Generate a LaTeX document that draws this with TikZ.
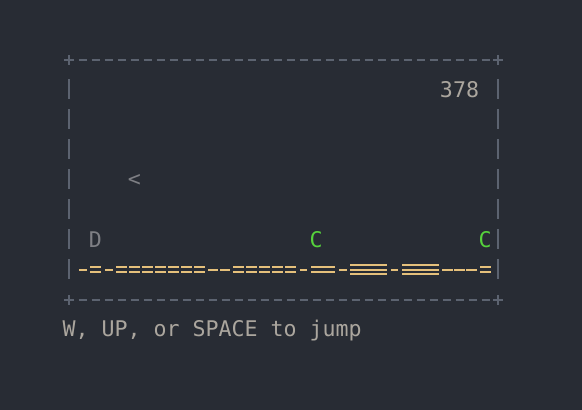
\documentclass[tikz,border=0pt]{standalone}
\usepackage{fontspec}
\setmonofont{DejaVu Sans Mono}
\definecolor{bg}{HTML}{282C34}
\definecolor{bordc}{HTML}{5C6370}
\definecolor{txtc}{HTML}{ABA69E}
\definecolor{dimc}{HTML}{7E7F84}
\definecolor{coinc}{HTML}{56D33C}
\definecolor{groundc}{HTML}{E5C07B}
\tikzset{
  bordr/.style={draw=bordc, line width=1.6pt},
  gline/.style={draw=groundc, line width=1.5pt},
  mono/.style={font=\ttfamily\fontsize{16.2}{16.2}\selectfont, inner sep=0pt, outer sep=0pt},
  score/.style={mono, text=txtc},
  dim/.style={mono, text=dimc},
  coin/.style={mono, text=coinc},
}
\newcommand\gsgl[2]{\draw[gline] (#1,270) -- (#2,270);}
\newcommand\gdbl[2]{\draw[gline] (#1,267) -- (#2,267) (#1,272) -- (#2,272);}
\newcommand\gtrp[2]{\draw[gline] (#1,265) -- (#2,265) (#1,269.7) -- (#2,269.7) (#1,274.3) -- (#2,274.3);}
\begin{document}
\begin{tikzpicture}[x=0.75pt,y=-0.75pt]
\useasboundingbox[fill=bg] (0,0) rectangle (582,410);
% border: top and bottom
\foreach \yy in {60,300}{
  \foreach \i in {1,...,32}{
    \draw[bordr] ({69+13*\i-3.5},\yy) -- ++(8,0);
  }
  \draw[bordr] (64,\yy) -- (74,\yy) (69,\yy-5) -- (69,\yy+5);
  \draw[bordr] (493,\yy) -- (503,\yy) (498,\yy-5) -- (498,\yy+5);
}
% border: sides
\foreach \r in {1,...,7}{
  \draw[bordr] (69,{60+30*\r-11}) -- ++(0,20);
  \draw[bordr] (498,{60+30*\r-11}) -- ++(0,20);
}
% texts
\node[score] (score) at (459.5,89.5) {378};
\node[dim] (player) at (134.5,180) {<};
\node[dim] (dino) at (95.5,239.5) {D};
\node[coin] (coinA) at (316,240) {C};
\node[coin] (coinB) at (485,240) {C};
\node[score, anchor=base west] (help) at (62.5,336.7) {W, UP, or SPACE to jump};
% ground
\gsgl{79}{86.7}
\gdbl{90}{100.7}
\gsgl{105.3}{112.7}
\foreach \i in {4,...,10}{ \gdbl{69+13*\i-5}{69+13*\i+5.5} }
\gsgl{208.3}{218.3}
\gsgl{220}{230}
\foreach \i in {13,...,17}{ \gdbl{69+13*\i-5}{69+13*\i+5.5} }
\gsgl{300}{307.3}
\gdbl{311}{335}
\gsgl{339}{346.7}
\gtrp{350}{386.7}
\gsgl{390.7}{398.3}
\gtrp{402.3}{439}
\gsgl{442.3}{453.3}
\gsgl{454.3}{465}
\gsgl{466}{476.7}
\gdbl{480}{490.7}
\end{tikzpicture}
\end{document}
